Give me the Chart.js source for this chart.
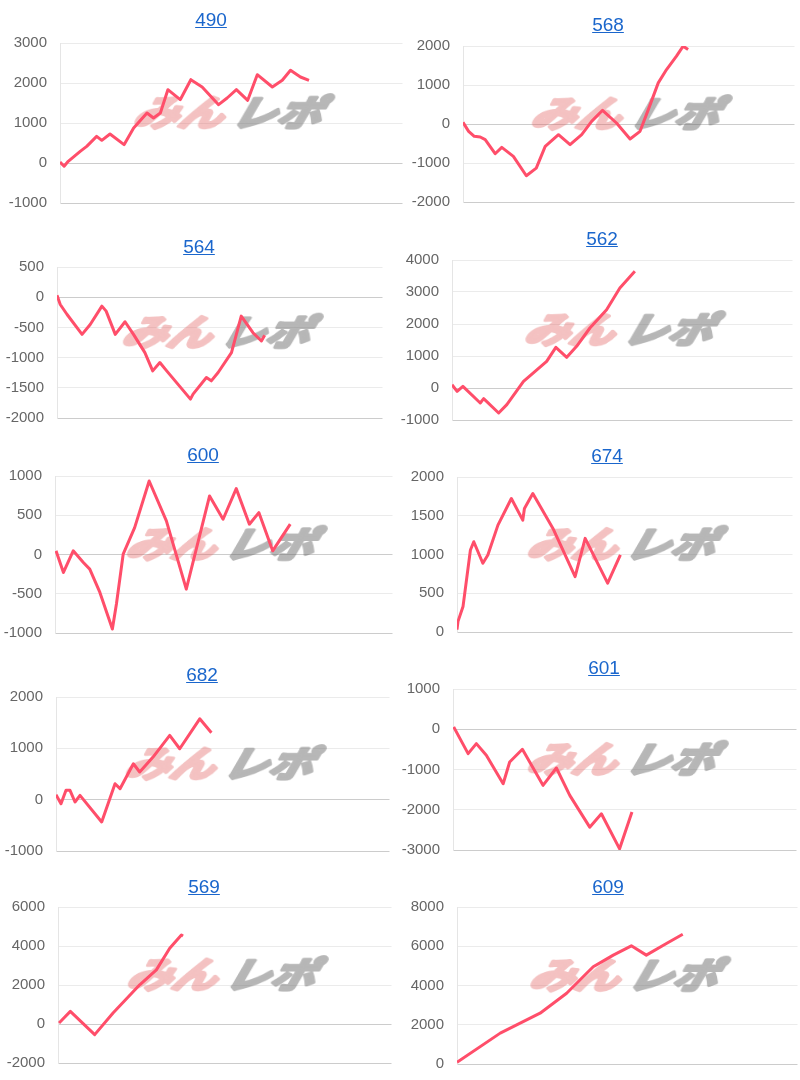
<!DOCTYPE html>
<html><head><meta charset="utf-8">
<script src="https://cdn.jsdelivr.net/npm/chart.js@4.4.0/dist/chart.umd.min.js"></script>
<style>
html,body{margin:0;padding:0;background:#fff;width:800px;height:1080px;overflow:hidden;font-family:"Liberation Sans",Arial,sans-serif}
canvas{position:absolute}
.ttl{position:absolute;width:120px;text-align:center;font-size:19px;line-height:22px}
.ttl a{color:#1a66cc;text-decoration:underline}
</style></head><body>
<script>
// ---- data (x = % of game axis, y = 差枚) ----
const titles = ['490','568','564','562','600','674','682','601','569','609'];

const games490 = [0,1.2,2.4,5.9,7.8,10.7,12.2,14.6,18.7,21.5,25.4,27.3,29.3,31.5,35.1,38.2,41.5,46.3,48.8,51.5,54.8,57.6,62.0,64.9,67.3,70.2,72.7];
const diff490  = [25,-80,42,292,417,667,567,725,458,875,1250,1125,1250,1833,1583,2083,1900,1458,1625,1833,1567,2208,1900,2067,2317,2150,2067];

const games568 = [0,1.7,3.4,5.2,6.7,9.7,11.7,15.2,19.1,22.1,24.8,28.8,32.3,35.8,38.8,42.1,46.3,50.4,53.4,55.9,58.9,61.4,64.4,66.4,67.9];
const diff568  = [43,-188,-317,-334,-400,-762,-600,-830,-1328,-1130,-574,-274,-531,-274,68,351,26,-385,-188,368,1054,1396,1739,1996,1910];

const games564 = [0,1.0,3.1,7.7,10.2,13.8,15.1,17.9,20.9,23.5,27.0,29.4,31.6,33.7,41.0,41.8,45.9,47.4,49.5,53.6,56.6,60.2,62.8,63.8];
const diff564  = [33,-121,-286,-615,-451,-148,-231,-615,-407,-615,-918,-1220,-1082,-1220,-1687,-1604,-1330,-1385,-1247,-918,-313,-588,-725,-632];

const games562 = [0,1.5,3.2,8.3,9.3,13.7,16.1,21.0,27.8,30.5,33.7,36.6,40.5,45.4,49.3,53.7];
const diff562  = [104,-104,52,-469,-333,-781,-521,208,833,1271,958,1302,1875,2448,3125,3646];

const games600 = [0.3,2.5,5.4,8.4,10.3,13.3,17.0,18.2,20.2,23.6,27.9,33.0,38.9,45.8,49.8,53.7,57.6,60.4,64.5,69.7];
const diff600  = [47,-229,47,-102,-186,-483,-949,-631,4,343,936,428,-441,746,449,839,386,534,47,386];

const games674 = [0,0.3,1.8,4.0,5.0,7.7,9.2,12.2,16.2,19.6,20.1,22.6,28.6,35.2,38.2,44.9,48.7];
const diff674  = [30,137,330,1058,1165,887,994,1379,1722,1443,1593,1786,1336,715,1208,630,994];

const games682 = [0,1.5,3.0,4.2,5.7,7.2,13.7,17.7,19.2,23.2,25.1,29.1,34.1,37.1,43.1,46.6];
const diff682  = [97,-78,182,182,-45,84,-434,311,214,700,539,830,1251,992,1575,1303];

const games601 = [0.2,4.4,6.8,9.7,14.6,16.5,20.2,26.2,30.1,34.0,39.8,43.2,48.5,52.1];
const diff601  = [58,-606,-357,-647,-1353,-813,-498,-1394,-963,-1643,-2432,-2100,-2971,-2058];

const games569 = [0.3,3.7,11.0,16.5,24.5,29.5,33.5,37.0,37.5];
const diff569  = [51,647,-545,562,2009,2774,3881,4562,4511];

const games609 = [0,12.7,24.4,32.2,40.0,45.9,51.2,55.6,61.5,66.3];
const diff609  = [85,1573,2588,3603,4956,5548,6021,5548,6140,6613];

const gamesList = [games490,games568,games564,games562,games600,games674,games682,games601,games569,games609];
const diffList  = [diff490,diff568,diff564,diff562,diff600,diff674,diff682,diff601,diff569,diff609];

// y axis tick ranges
const yMin  = [-1000,-2000,-2000,-1000,-1000,0,-1000,-3000,-2000,0];
const yMax  = [3000,2000,500,4000,1000,2000,2000,1000,6000,8000];
const yStep = [1000,1000,500,1000,500,500,1000,1000,2000,2000];

// ---- layout (page pixels): plot left, top, right, bottom, canvas left; title centre x, y ----
const layoutBoxes = [
  [60,43,403,203,0, 211,20],
  [463,46,795,202,396, 608,25],
  [57,267,383,418,0, 199,247],
  [452,260,793,420,396, 602,239],
  [55,476,393,633,0, 203,455],
  [457,477,793,632,396, 607,456],
  [56,697,390,851,0, 202,675],
  [453,689,797,850,396, 604,668],
  [58,907,392,1063,0, 204,887],
  [457,907,798,1064,396, 608,887]
];

const PAD = 10;

// watermark text rendered once, opaque, then composited with transparency
const WM_TEXT1 = 'みん', WM_TEXT2 = 'レポ';
function makeWatermark(color, text) {
  const c = document.createElement('canvas');
  c.width = 160; c.height = 70;
  const x = c.getContext('2d');
  x.font = "italic bold 44px 'Noto Sans CJK JP'";
  x.textBaseline = 'middle';
  x.lineJoin = 'round';
  x.lineWidth = 4;
  x.fillStyle = x.strokeStyle = color;
  x.translate(20, 35);
  x.transform(1, 0, -0.22, 1, 0, 0);
  x.fillText(text, 0, 0);
  x.strokeText(text, 0, 0);
  return { c, w: x.measureText(text).width + 8 };
}
let wm1 = null, wm2 = null;
const watermark = {
  id: 'watermark',
  beforeDatasetsDraw(chart) {
    if (!wm1) { wm1 = makeWatermark('rgb(225,95,95)', WM_TEXT1); wm2 = makeWatermark('rgb(105,105,105)', WM_TEXT2); }
    const a = chart.chartArea, ctx = chart.ctx;
    const cx = (a.left + a.right) / 2 + 2, cy = (a.top + a.bottom) / 2 - 11;
    const total = wm1.w + wm2.w;
    const sx = 196 / total, sy = 0.82;
    ctx.save();
    ctx.translate(cx, cy);
    ctx.scale(sx, sy);
    ctx.globalAlpha = 0.38;
    ctx.drawImage(wm1.c, -total / 2 - 20, -35);
    ctx.globalAlpha = 0.48;
    ctx.drawImage(wm2.c, -total / 2 + wm1.w - 20, -35);
    ctx.restore();
  }
};

layoutBoxes.forEach((b, i) => {
  const [L, T, R, B, CX, tx, ty] = b;
  const cv = document.createElement('canvas');
  const w = R - CX + 1, h0 = B - T + PAD * 2;
  cv.width = w; cv.height = h0;
  cv.style.left = CX + 'px'; cv.style.top = (T - PAD) + 'px';
  cv.style.width = w + 'px'; cv.style.height = h0 + 'px';
  document.body.appendChild(cv);

  const t = document.createElement('div');
  t.className = 'ttl';
  t.style.left = (tx - 60) + 'px';
  t.style.top = (ty - 11) + 'px';
  t.innerHTML = '<a href="#">' + titles[i] + '</a>';
  document.body.appendChild(t);

  const xs = gamesList[i], ys = diffList[i];
  const axisW = L - CX;
  const chart = new Chart(cv, {
    type: 'line',
    data: { datasets: [{
      data: xs.map((x, k) => ({ x: x, y: ys[k] })),
      borderColor: 'rgb(255,78,106)',
      borderWidth: 3,
      pointRadius: 0,
      tension: 0,
      fill: false,
      borderJoinStyle: 'round'
    }]},
    options: {
      responsive: false,
      maintainAspectRatio: false,
      animation: false,
      events: [],
      layout: { padding: { top: PAD, bottom: PAD, left: 0, right: 0 } },
      plugins: { legend: { display: false }, tooltip: { enabled: false } },
      scales: {
        x: { type: 'linear', min: 0, max: 100, display: false },
        y: {
          min: yMin[i], max: yMax[i],
          afterFit: s => { s.width = axisW; },
          ticks: { stepSize: yStep[i], padding: 13, color: '#666',
                   font: { size: 15, family: "'Liberation Sans', Arial, sans-serif" },
                   callback: v => String(v) },
          grid: {
            drawTicks: false,
            color: c => (c.tick && (c.tick.value === 0 || c.index === 0)) ? 'rgba(0,0,0,0.2)' : 'rgba(0,0,0,0.08)'
          },
          border: { color: 'rgba(0,0,0,0.1)' }
        }
      }
    },
    plugins: [watermark]
  });
  // fit canvas so the plot area lands exactly on the measured box
  const a = chart.chartArea;
  const extra = h0 - (a.bottom - a.top);
  const h = (B - T) + extra;
  chart.resize(w, h);
  const a2 = chart.chartArea;
  cv.style.top = (T - a2.top) + 'px';
});
</script>
</body></html>
